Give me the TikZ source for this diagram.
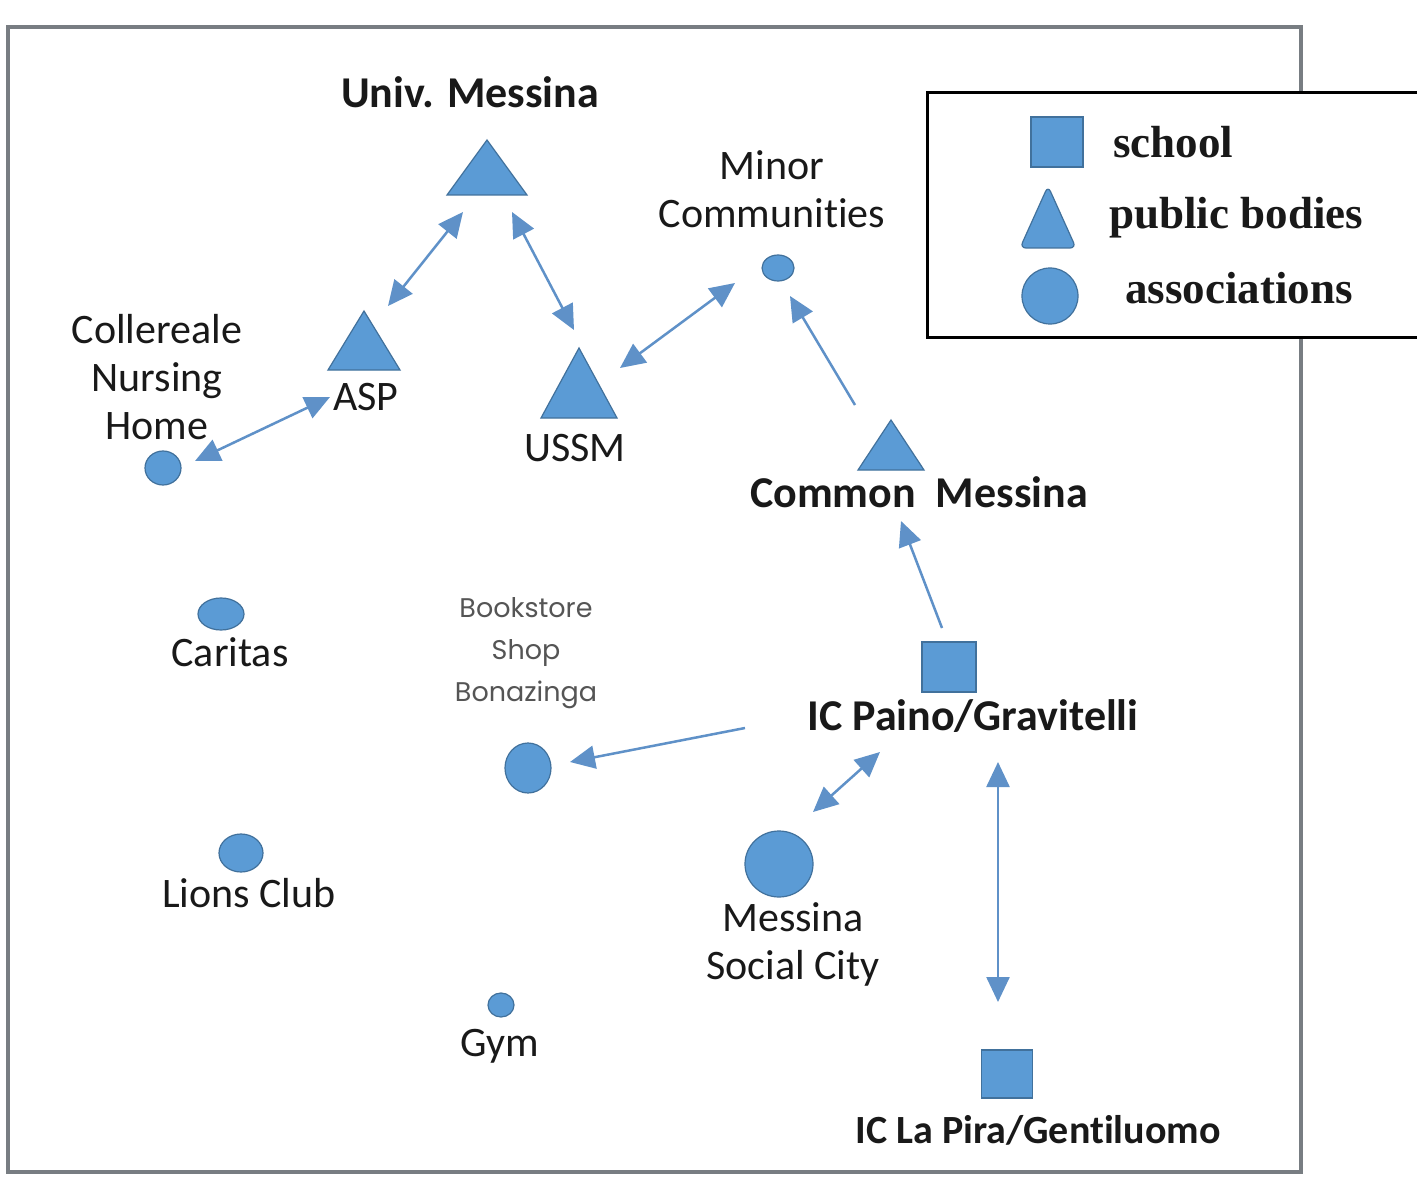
\documentclass[tikz,border=0pt]{standalone}
\usepackage{fontspec}
\setmainfont{Carlito}[RawFeature={-liga;-clig;-calt;-dlig}]
\newfontfamily\gothic{Poppins}
\newfontfamily\legfont{Liberation Serif}
\usetikzlibrary{shapes.geometric,arrows.meta,calc}
\definecolor{shapefill}{HTML}{5B9BD5}
\definecolor{shapeline}{HTML}{41719C}
\definecolor{arrowc}{RGB}{95,145,200}
\definecolor{framec}{RGB}{120,125,130}
\definecolor{textc}{RGB}{25,25,25}
\definecolor{graytext}{RGB}{85,85,85}
\begin{document}
\begin{tikzpicture}[x=1pt,y=-1pt,
 shp/.style={fill=shapefill,draw=shapeline,line width=1.2pt,inner sep=0pt,outer sep=0pt},
 tri/.style 2 args={shp,isosceles triangle,isosceles triangle stretches,shape border rotate=90,minimum width=#1,minimum height=#2,anchor=apex},
 ell/.style 2 args={shp,ellipse,minimum width=#1,minimum height=#2},
 sq/.style 2 args={shp,rectangle,minimum width=#1,minimum height=#2},
 lab/.style={text=textc,font=\fontsize{42}{48}\selectfont,align=center,inner sep=0pt},
 blab/.style={lab,font=\fontsize{44}{50}\selectfont\bfseries},
 glab/.style={text=graytext,font=\gothic\fontsize{27}{42}\selectfont,align=center,inner sep=0pt},
 leg/.style={text=textc,font=\legfont\bfseries\fontsize{45}{50}\selectfont,inner sep=0pt,anchor=base west},
 con/.style={draw=arrowc,line width=2.5pt},
 two/.style={con,{Triangle[length=25pt,width=23pt]}-{Triangle[length=25pt,width=23pt]}},
 one/.style={con,-{Triangle[length=25pt,width=23pt]}},
]
\useasboundingbox (0,0) rectangle (1417,1201);
\fill[white] (0,0) rectangle (1417,1201);
\draw[framec,line width=3.5pt] (8,27) rectangle (1301,1172);

% public bodies
\node[tri={80}{55}] (univ) at (487,140) {};
\node[tri={72}{59}] (asp) at (364,311) {};
\node[tri={76}{70}] (ussm) at (579,348) {};
\node[tri={66}{50}] (common) at (891,420) {};
% associations
\node[ell={32}{26}] (minor) at (778,268) {};
\node[ell={36}{34}] (coll) at (163,468) {};
\node[ell={46}{32}] (caritas) at (221,614) {};
\node[ell={44}{38}] (lions) at (241,853) {};
\node[ell={26}{24}] (gym) at (501,1005) {};
\node[ell={46}{50}] (book) at (528,768) {};
\node[ell={68}{66}] (msc) at (779,864) {};
% schools
\node[sq={54}{50}] (paino) at (949,667) {};
\node[sq={51}{48}] (lapira) at (1007,1074) {};

% labels
\node[blab] (univL) at (470,92) {Univ. Messina};
\node[lab] (minorL) at (772,189) {Minor\\Communities};
\node[lab] (collL) at (157,377) {Collereale\\Nursing\\Home};
\node[lab] (aspL) at (366,397) {ASP};
\node[lab] (ussmL) at (575,448) {USSM};
\node[blab] (commonL) at (919,492) {Common\ \ Messina};
\node[blab] (painoL) at (973,716) {IC Paino/Gravitelli};
\node[blab,font=\fontsize{40}{46}\selectfont\bfseries] (lapiraL) at (1038,1130) {IC La Pira/Gentiluomo};
\node[lab] (caritasL) at (230,652) {Caritas};
\node[lab] (lionsL) at (249,893) {Lions Club};
\node[lab] (gymL) at (500,1046) {Gym};
\node[lab] (mscL) at (793,944) {Messina\\Social City};
\node[glab] (bookL) at (526,653) {Bookstore\\Shop\\Bonazinga};

% connectors
\draw[two] ($(univ.apex)+(-24,72)$) -- ($(asp.apex)+(24,-5)$);
\draw[two] ($(univ.apex)+(25,72)$) -- ($(ussm.apex)+(-5,-18)$);
\draw[two] ($(ussm.apex)+(41,20)$) -- ($(minor)+(-43,15)$);
\draw[two] ($(coll)+(32,-7)$) -- ($(asp.apex)+(-34,86)$);
\draw[one] ($(common.apex)+(-36,-15)$) -- ($(minor)+(12,28)$);
\draw[one] ($(paino)+(-7,-39)$) -- ($(common.apex)+(10,101)$);
\draw[one] ($(paino)+(-204,61)$) -- ($(book)+(42,-6)$);
\draw[two] ($(paino)+(-69,85)$) -- ($(msc)+(34,-52)$);
\draw[two] ($(paino)+(49,95)$) -- ($(lapira)+(-9,-72)$);

% legend
\draw[black,line width=3pt,fill=white] (927,93) rectangle (1430,337);
\node[sq={52}{50}] (lsq) at (1057,142) {};
\node[tri={56}{62},rounded corners=6pt] (ltri) at (1048,186) {};
\node[shp,circle,minimum size=56pt] (lcirc) at (1050,296) {};
\node[leg] (lschool) at (1113,158) {school};
\node[leg] (lpublic) at (1109,229) {public bodies};
\node[leg] (lassoc) at (1125,303) {associations};
\end{tikzpicture}
\end{document}
